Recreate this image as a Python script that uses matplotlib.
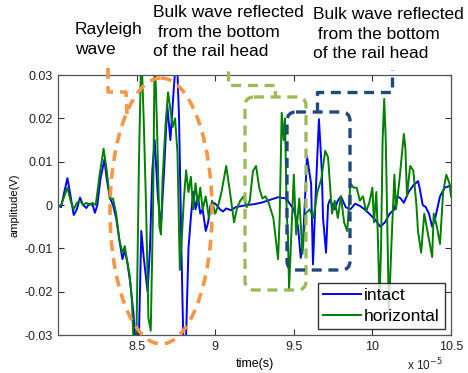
import numpy as np
import matplotlib
matplotlib.use("Agg")
import matplotlib.pyplot as plt
from matplotlib.patches import Ellipse, FancyBboxPatch
from matplotlib.lines import Line2D
from matplotlib.transforms import Affine2D

plt.rcParams['font.family'] = ['Liberation Sans', 'DejaVu Sans']

# time in units of 1e-5 s, amplitude in V
intact = np.array([
    (8.00, 0.0), (8.02, -0.0005), (8.04, 0.003), (8.06, 0.0062), (8.08, 0.002),
    (8.10, -0.0023), (8.12, -0.001), (8.14, 0.0017), (8.16, 0.0), (8.18, -0.0007),
    (8.20, 0.0003), (8.22, 0.0), (8.235, -0.0018), (8.25, 0.0), (8.27, 0.006),
    (8.295, 0.0105), (8.31, 0.006), (8.33, 0.0017), (8.35, 0.0), (8.37, -0.003),
    (8.39, -0.008), (8.41, -0.0125), (8.425, -0.0105), (8.44, -0.013), (8.46, -0.018),
    (8.48, -0.025), (8.50, -0.036), (8.515, -0.03), (8.53, -0.006), (8.545, -0.012),
    (8.57, -0.02), (8.585, -0.01), (8.60, 0.008), (8.615, 0.015), (8.635, 0.002),
    (8.655, -0.005), (8.675, 0.008), (8.695, 0.023), (8.715, 0.015), (8.735, 0.026),
    (8.755, 0.036), (8.77, 0.02), (8.785, -0.01), (8.80, -0.036), (8.815, -0.03),
    (8.83, -0.01), (8.845, -0.003), (8.86, 0.003), (8.875, -0.001), (8.89, 0.002),
    (8.905, -0.002), (8.92, -0.001), (8.94, -0.006), (8.955, -0.004), (8.97, 0.0),
    (8.99, 0.0005), (9.01, 0.0), (9.03, -0.001), (9.05, -0.0015), (9.07, -0.0008),
    (9.10, -0.0012), (9.13, -0.0005), (9.16, -0.0003), (9.20, 0.0), (9.25, 0.0002),
    (9.30, 0.0006), (9.35, 0.0012), (9.40, 0.0018), (9.45, 0.0015), (9.48, 0.0),
    (9.50, -0.001), (9.527, -0.005), (9.544, -0.0122), (9.558, -0.009), (9.584, 0.0113),
    (9.597, 0.008), (9.61, 0.005), (9.622, -0.0137), (9.641, 0.004), (9.648, 0.01),
    (9.66, 0.0198), (9.678, 0.008), (9.686, -0.003), (9.705, -0.011), (9.718, 0.0),
    (9.73, 0.0012), (9.76, -0.001), (9.78, 0.001), (9.80, 0.002), (9.83, -0.0005),
    (9.86, -0.001), (9.89, 0.0003), (9.92, -0.0002), (9.95, -0.001), (9.98, -0.002),
    (10.02, -0.0035), (10.05, -0.005), (10.08, -0.004), (10.11, -0.002), (10.14, -0.001),
    (10.16, 0.002), (10.18, 0.0015), (10.20, 0.0005), (10.23, 0.003), (10.26, 0.0045),
    (10.29, 0.0055), (10.30, 0.004), (10.32, 0.0), (10.34, -0.0005), (10.36, -0.002),
    (10.38, -0.005), (10.40, -0.003), (10.43, 0.002), (10.46, 0.004), (10.50, 0.0045),
])

horizontal = np.array([
    (8.00, -0.0005), (8.02, 0.0), (8.04, 0.002), (8.06, 0.004), (8.08, 0.001),
    (8.10, -0.001), (8.12, 0.0005), (8.14, 0.001), (8.16, 0.0), (8.18, 0.0005),
    (8.20, 0.0), (8.22, 0.0005), (8.24, 0.0), (8.265, 0.007), (8.29, 0.013),
    (8.31, 0.008), (8.33, 0.0014), (8.35, 0.0015), (8.37, -0.002), (8.39, -0.008),
    (8.41, -0.011), (8.425, -0.0095), (8.44, -0.013), (8.455, -0.016), (8.47, -0.022),
    (8.485, -0.036), (8.50, -0.028), (8.515, 0.01), (8.53, 0.036), (8.545, 0.02),
    (8.56, 0.0), (8.575, -0.026), (8.59, -0.029), (8.605, 0.0), (8.615, 0.036),
    (8.63, 0.018), (8.645, -0.005), (8.655, -0.0068), (8.665, 0.006), (8.685, 0.019),
    (8.70, 0.026), (8.715, 0.022), (8.73, 0.018), (8.745, 0.02), (8.76, 0.012),
    (8.775, -0.015), (8.79, -0.006), (8.80, 0.001), (8.815, 0.008), (8.83, 0.003),
    (8.845, 0.0065), (8.86, -0.001), (8.875, 0.005), (8.89, 0.0), (8.905, 0.004),
    (8.92, -0.001), (8.94, 0.002), (8.96, -0.003), (8.98, 0.001), (9.00, -0.002),
    (9.02, 0.0), (9.04, 0.003), (9.07, 0.009), (9.09, 0.004), (9.12, -0.004),
    (9.14, -0.0005), (9.16, 0.001), (9.18, 0.002), (9.20, -0.0005), (9.22, 0.001),
    (9.24, 0.0078), (9.26, 0.009), (9.28, 0.004), (9.30, 0.0015), (9.32, 0.002),
    (9.34, 0.0005), (9.37, -0.003), (9.40, -0.0125), (9.41, -0.003), (9.423, 0.0213),
    (9.435, 0.015), (9.444, 0.02), (9.455, -0.002), (9.463, -0.0073), (9.47, -0.0194),
    (9.485, -0.006), (9.50, 0.007), (9.515, -0.0068), (9.535, 0.0015), (9.555, -0.0113),
    (9.575, -0.002), (9.60, -0.001), (9.625, -0.003), (9.65, 0.003), (9.675, 0.006),
    (9.70, 0.0125), (9.718, 0.011), (9.743, -0.002), (9.76, 0.001), (9.78, -0.003),
    (9.80, 0.002), (9.82, -0.004), (9.84, -0.006), (9.86, 0.005), (9.88, 0.004),
    (9.90, 0.004), (9.92, 0.001), (9.94, 0.002), (9.96, -0.0015), (9.98, 0.0005),
    (10.00, 0.004), (10.01, -0.004), (10.025, 0.003), (10.035, -0.0075), (10.045, -0.022),
    (10.055, -0.01), (10.065, 0.015), (10.075, 0.0245), (10.085, 0.015), (10.095, -0.005),
    (10.105, -0.025), (10.12, -0.01), (10.14, 0.007), (10.15, -0.001), (10.17, 0.005),
    (10.20, 0.0164), (10.21, 0.013), (10.22, 0.002), (10.24, 0.009), (10.26, 0.008),
    (10.28, 0.0), (10.29, -0.006), (10.31, -0.011), (10.33, -0.002), (10.35, -0.006),
    (10.38, -0.012), (10.39, -0.002), (10.41, -0.005), (10.43, -0.009), (10.45, 0.003),
    (10.47, 0.007), (10.49, 0.005), (10.50, 0.002),
])

xticks = [8.5, 9, 9.5, 10, 10.5]
yticks = [-0.03, -0.02, -0.01, 0, 0.01, 0.02, 0.03]
series_names = ['intact', 'horizontal']
series_colors = ['#0000ff', '#007f00']

W, H = 468, 373
fig = plt.figure(figsize=(W / 100, H / 100), dpi=100)
ax = fig.add_axes([58 / W, 1 - 335 / H, (451 - 58) / W, (335 - 75) / H])

for data, name, col in zip([intact, horizontal], series_names, series_colors):
    ax.plot(data[:, 0], data[:, 1], color=col, lw=1.4, label=name)

ax.set_xlim(8.0, 10.5)
ax.set_ylim(-0.03, 0.03)
ax.set_xticks(xticks)
ax.set_xticklabels(['%g' % t for t in xticks])
ax.set_yticks(yticks)
ax.set_yticklabels(['%g' % v for v in yticks])
ax.tick_params(direction='in', top=True, right=True, length=4, labelsize=9,
               colors='#333333', labelcolor='#222222', pad=4)
for s in ax.spines.values():
    s.set_color('#555555')
    s.set_linewidth(0.9)
ax.set_xlabel('time(s)', fontsize=9, labelpad=4)
ax.set_ylabel('amplitude(V)', fontsize=8, labelpad=3)
fig.text(443 / W, 1 - 365 / H, r'x 10$^{-5}$', fontsize=8.5, ha='right', va='center',
         color='#222222')

leg = ax.legend(loc='lower right', fontsize=12.5, frameon=True, fancybox=False,
                edgecolor='black', handlelength=2.2, handletextpad=0.15,
                borderpad=0.3, labelspacing=0.3, borderaxespad=0.35)
leg.get_frame().set_linewidth(1.0)

# pixel coordinates measured from the top-left corner of the picture
px = Affine2D().scale(1, -1).translate(0, H).scale(1 / W, 1 / H) + fig.transFigure

dash = (0, (3, 2))
orange, lgreen, dblue = '#f79646', '#9bbb59', '#1f497d'

fig.add_artist(Ellipse((161, 211), 102, 266, transform=px, fill=False,
                       edgecolor=orange, lw=2.6, linestyle=dash))
fig.add_artist(Line2D([108, 108, 126, 127], [68, 92, 92, 114], transform=px,
                      color=orange, lw=2.6, linestyle=dash))

fig.add_artist(FancyBboxPatch((245, 97), 61, 193, boxstyle='round,pad=0,rounding_size=9',
                              transform=px, fill=False, edgecolor=lgreen, lw=2.4,
                              linestyle=dash))
fig.add_artist(Line2D([228, 228, 275, 275], [71, 85, 85, 97], transform=px,
                      color=lgreen, lw=2.4, linestyle=dash))

fig.add_artist(FancyBboxPatch((287, 112), 63, 158, boxstyle='round,pad=0,rounding_size=9',
                              transform=px, fill=False, edgecolor=dblue, lw=2.4,
                              linestyle=dash))
fig.add_artist(Line2D([317, 317, 392, 392], [112, 92, 92, 70], transform=px,
                      color=dblue, lw=2.4, linestyle=dash))

txt = dict(fontsize=12.5, linespacing=1.38, ha='left', va='top', color='black')
fig.text(75 / W, 1 - 22 / H, 'Rayleigh\nwave', **txt)
fig.text(153 / W, 1 - 5 / H, 'Bulk wave reflected\n from the bottom\nof the rail head', **txt)
fig.text(313 / W, 1 - 7 / H, 'Bulk wave reflected\n from the bottom\nof the rail head', **txt)

fig.savefig('out.png', dpi=100)
